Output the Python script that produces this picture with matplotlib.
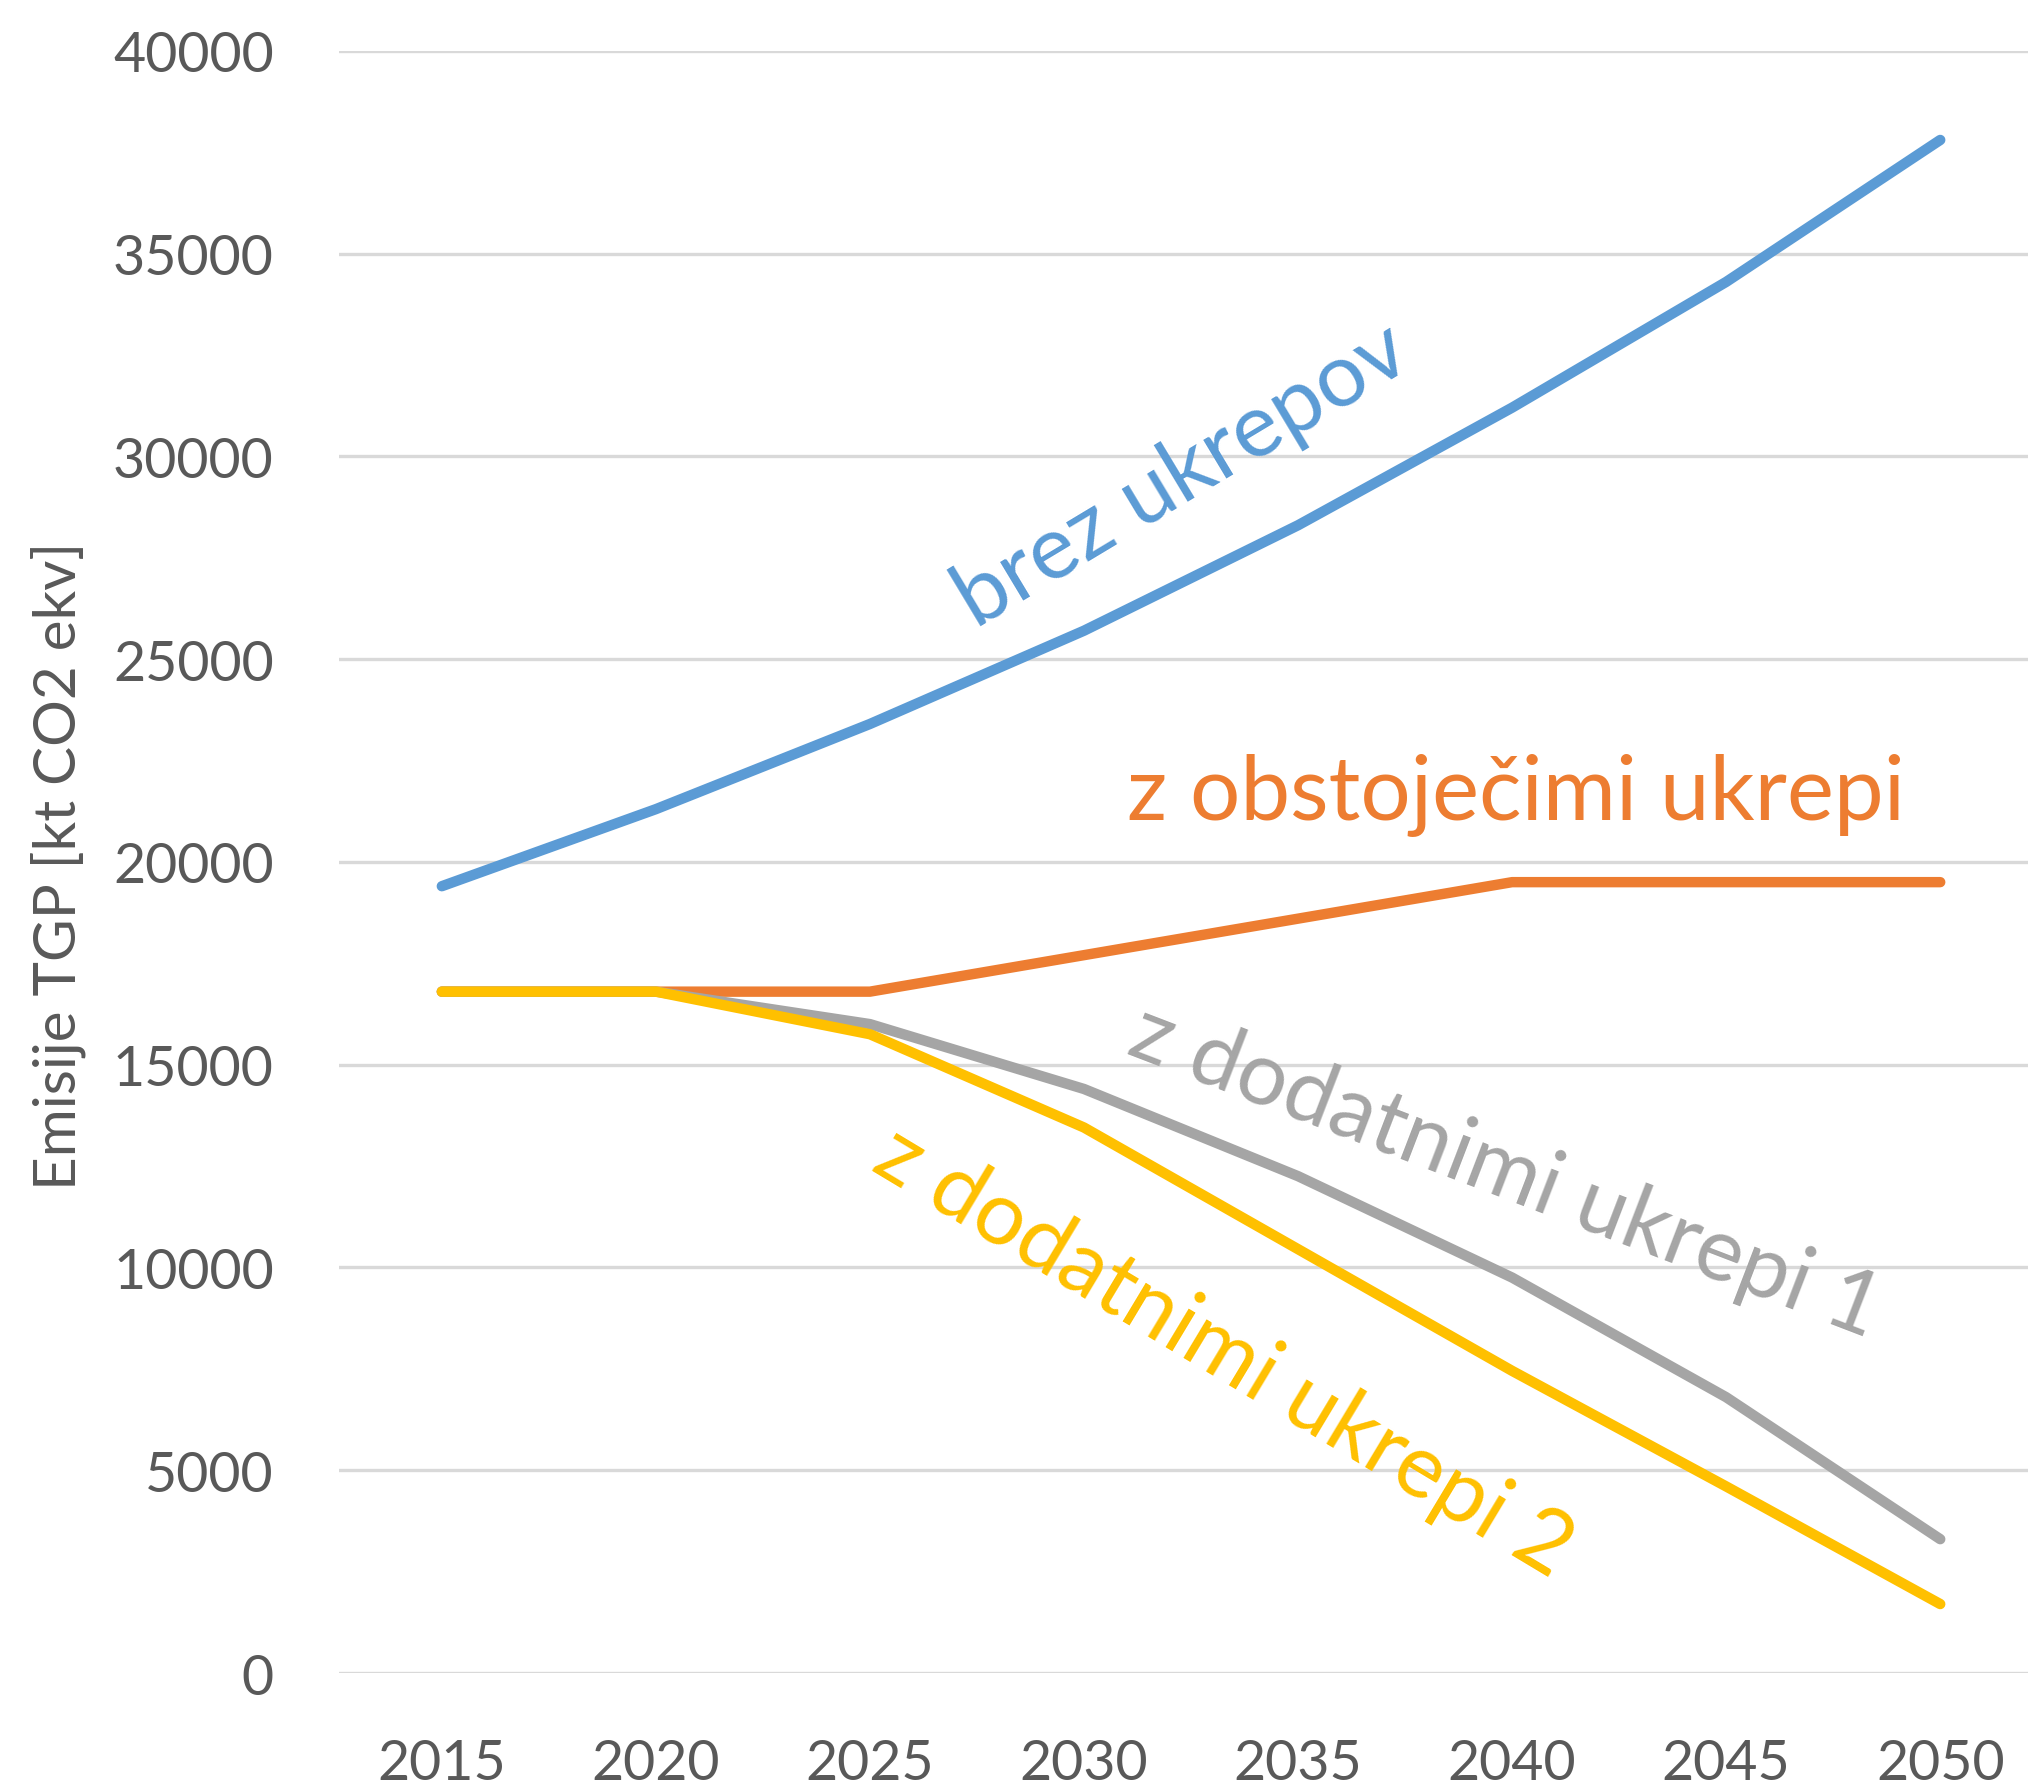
import numpy as np
import matplotlib
matplotlib.use('Agg')
from matplotlib import pyplot as plt

plt.rcParams['font.family'] = ['Lato', 'DejaVu Sans']

years = ['2015', '2020', '2025', '2030', '2035', '2040', '2045', '2050']
brez_ukrepov = [19400, 21300, 23400, 25700, 28300, 31200, 34300, 37800]
z_obstojecimi = [16800, 16800, 16800, 17700, 18600, 19500, 19500, 19500]
z_dodatnimi_1 = [16800, 16800, 16000, 14400, 12250, 9750, 6800, 3300]
z_dodatnimi_2 = [16800, 16800, 15750, 13450, 10450, 7450, 4600, 1700]

c_blue = '#5B9BD5'
c_orange = '#ED7D31'
c_gray = '#A5A5A5'
c_yellow = '#FFC000'
c_text = '#595959'

fig = plt.figure(figsize=(20.28, 17.90), dpi=100)
ax = fig.add_axes([0.1672, 0.0648, 0.8328, 0.9063])

x = np.arange(len(years))
lw = 7.5
for vals, col in [(brez_ukrepov, c_blue), (z_obstojecimi, c_orange),
                  (z_dodatnimi_1, c_gray), (z_dodatnimi_2, c_yellow)]:
    ax.plot(x, vals, color=col, lw=lw, solid_capstyle='round',
            solid_joinstyle='round', zorder=3)

ax.set_xlim(-0.48, 7.41)
ax.set_ylim(0, 40000)
ax.set_xticks(x)
ax.set_xticklabels(years)
ax.set_yticks(np.arange(0, 40001, 5000))
ax.yaxis.grid(True, color='#D9D9D9', lw=2.4, zorder=0)
ax.set_axisbelow(True)
for s in ax.spines.values():
    s.set_visible(False)
ax.tick_params(axis='both', length=0, labelsize=40, labelcolor=c_text)
ax.tick_params(axis='y', pad=47)
ax.tick_params(axis='x', pad=47)
ax.set_ylabel('Emisije TGP [kt CO2 ekv]', fontsize=42, color=c_text)
ax.yaxis.set_label_coords(-0.150, 0.498)

# series labels
fs = 64
ax.text(3.46, 29540, 'brez ukrepov', color=c_blue, fontsize=fs, rotation=31,
        ha='center', va='center', rotation_mode='anchor')
ax.text(5.02, 21650, 'z obstoječimi ukrepi', color=c_orange, fontsize=fs,
        ha='center', va='center')
ax.text(4.97, 12380, 'z dodatnimi ukrepi 1', color=c_gray, fontsize=fs,
        rotation=-21, ha='center', va='center', rotation_mode='anchor')
ax.text(3.65, 7910, 'z dodatnimi ukrepi 2', color=c_yellow, fontsize=fs,
        rotation=-31, ha='center', va='center', rotation_mode='anchor')

fig.savefig('out.png', dpi=100)
